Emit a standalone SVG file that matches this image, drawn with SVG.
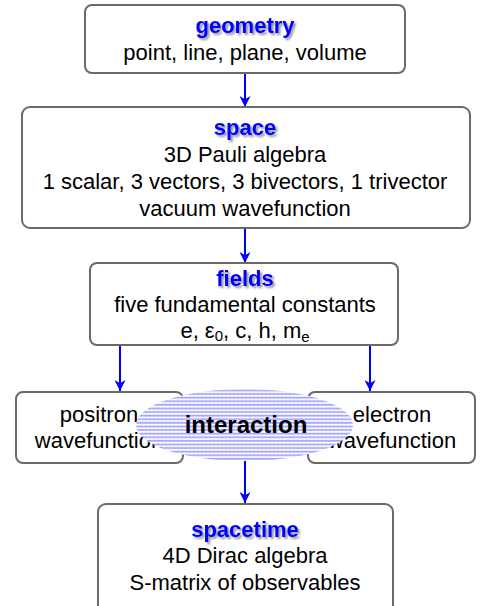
<svg xmlns="http://www.w3.org/2000/svg" width="488" height="606" viewBox="0 0 488 606">
<style>
.box{fill:#fff;stroke:#6a6a6a;stroke-width:2}
.t{font-family:"Liberation Sans",Arial,sans-serif;font-size:22px;fill:#000;text-anchor:middle}
.h{font-family:"Liberation Sans",Arial,sans-serif;font-size:22px;font-weight:bold;fill:#0000ff;text-anchor:middle;filter:url(#sh)}
.c{stroke:#0000ff;stroke-width:2;fill:none;marker-end:url(#ah)}
</style>
<defs>
<marker id="ah" viewBox="0 0 10 10" refX="10" refY="5" markerWidth="5.5" markerHeight="5.5" orient="auto" markerUnits="strokeWidth">
<path d="M0,0 L10,5 L0,10 L3,5 z" fill="#0000ff"/>
</marker>
<filter id="sh" x="-20%" y="-30%" width="140%" height="170%">
<feGaussianBlur in="SourceAlpha" stdDeviation="1"/>
<feOffset dx="2" dy="2" result="b"/>
<feFlood flood-color="#000" flood-opacity="0.45"/>
<feComposite in2="b" operator="in"/>
<feMerge><feMergeNode/><feMergeNode in="SourceGraphic"/></feMerge>
</filter>
<pattern id="wave" width="4" height="3.6" patternUnits="userSpaceOnUse">
<rect width="4" height="3.6" fill="#ffffff"/>
<path d="M0,0.7 L1,2.5 L2,0.7 L3,2.5 L4,0.7" stroke="#4a4aff" stroke-width="0.55" fill="none"/>
</pattern>
</defs>

<g id="connectors">
<path class="c" d="M245,73 V107"/>
<path class="c" d="M245,228 V263"/>
<path class="c" d="M120,345 V391"/>
<path class="c" d="M370,345 V391"/>
<path class="c" d="M245,461 V503"/>
</g>

<g id="geometry">
<rect class="box" x="85" y="5" width="320" height="68" rx="7"/>
<text class="h" x="245" y="33">geometry</text>
<text class="t" x="245" y="60">point, line, plane, volume</text>
</g>

<g id="space">
<rect class="box" x="22" y="107" width="448" height="121" rx="8"/>
<text class="h" x="245" y="135">space</text>
<text class="t" x="245" y="162">3D Pauli algebra</text>
<text class="t" x="245" y="189">1 scalar, 3 vectors, 3 bivectors, 1 trivector</text>
<text class="t" x="245" y="216">vacuum wavefunction</text>
</g>

<g id="fields">
<rect class="box" x="90" y="263" width="308" height="82" rx="7"/>
<text class="h" x="245" y="286">fields</text>
<text class="t" x="245" y="312">five fundamental constants</text>
<text class="t" x="245" y="338">e, <tspan>ε</tspan><tspan font-size="15" dy="3">0</tspan><tspan dy="-3">, c, h, m</tspan><tspan font-size="15" dy="4">e</tspan></text>
</g>

<g id="positron">
<rect class="box" x="16" y="392" width="167" height="71" rx="7"/>
<text class="t" x="99" y="422">positron</text>
<text class="t" x="99" y="448">wavefunction</text>
</g>

<g id="electron">
<rect class="box" x="308" y="392" width="167" height="71" rx="7"/>
<text class="t" x="392" y="422">electron</text>
<text class="t" x="392" y="448">wavefunction</text>
</g>

<g id="interaction">
<ellipse cx="244.5" cy="425" rx="108.5" ry="36" fill="url(#wave)"/>
<text x="246" y="433" font-family="'Liberation Sans',Arial,sans-serif" font-size="24" font-weight="bold" fill="#000" text-anchor="middle">interaction</text>
</g>

<g id="spacetime">
<rect class="box" x="98" y="504" width="295" height="112" rx="8"/>
<text class="h" x="245" y="537">spacetime</text>
<text class="t" x="245" y="563">4D Dirac algebra</text>
<text class="t" x="245" y="590">S-matrix of observables</text>
</g>
</svg>
